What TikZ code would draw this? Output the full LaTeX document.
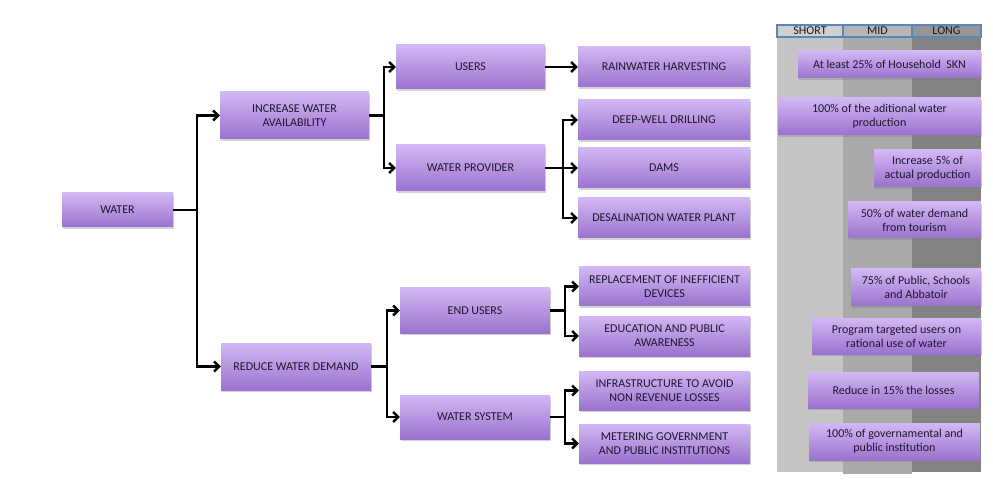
\documentclass[tikz,border=0pt]{standalone}
\usepackage{fontspec}
\setmainfont{Carlito}
\usetikzlibrary{arrows.meta,shadows}

\definecolor{boxtop}{HTML}{D2B8F3}
\definecolor{boxbot}{HTML}{9A72CE}
\definecolor{boxtext}{HTML}{1E1630}
\definecolor{colshort}{HTML}{C4C4C4}
\definecolor{colmid}{HTML}{A9A9A9}
\definecolor{collong}{HTML}{838383}
\definecolor{hdrblue}{HTML}{5B87B8}

\tikzset{
  box/.style={rectangle, inner sep=0pt, align=center, top color=boxtop, bottom color=boxbot,
    text=boxtext, font=\fontsize{12}{14}\selectfont,
    drop shadow={opacity=0.35, shadow xshift=0.6pt, shadow yshift=-1.8pt}},
  hdr/.style={rectangle, inner sep=0pt, draw=hdrblue, line width=1.2pt, minimum height=12,
    text=black!90, font=\fontsize{12}{12}\selectfont},
  link/.style={line width=2.4pt, black},
  arr/.style={link, -{Straight Barb[length=5pt,width=10pt]}},
}

\begin{document}
\begin{tikzpicture}[x=1pt,y=1pt,yscale=-1,xscale=1]
\useasboundingbox (0,0) rectangle (993,486);

%Time columns
\fill[colshort] (777,25) rectangle (843,472);
\fill[colmid] (843,25) rectangle (912,474);
\fill[collong] (912,25) rectangle (981,472);
\node[hdr, fill=colshort!80!white, minimum width=66] (short) at (810,31) {SHORT};
\node[hdr, fill=colmid!85!white, minimum width=69] (mid) at (877.5,31) {MID};
\node[hdr, fill=collong!85!white, minimum width=69] (long) at (946.5,31) {LONG};

% Tree nodes
\node[box, minimum width=111, minimum height=34] (water) at (117.5,210) {WATER};
\node[box, minimum width=149, minimum height=47] (inc) at (294.5,115.5) {INCREASE WATER\\AVAILABILITY};
\node[box, minimum width=150, minimum height=47] (red) at (296,366.5) {REDUCE WATER DEMAND};
\node[box, minimum width=149, minimum height=44] (users) at (470.5,67) {USERS};
\node[box, minimum width=149, minimum height=46] (prov) at (470.5,168) {WATER PROVIDER};
\node[box, minimum width=150, minimum height=45] (endu) at (475,310.5) {END USERS};
\node[box, minimum width=150, minimum height=44] (wsys) at (475,417) {WATER SYSTEM};
\node[box, minimum width=172, minimum height=40] (rain) at (664,67) {RAINWATER HARVESTING};
\node[box, minimum width=172, minimum height=40] (deep) at (664,120) {DEEP-WELL DRILLING};
\node[box, minimum width=172, minimum height=40] (dams) at (664,168) {DAMS};
\node[box, minimum width=172, minimum height=40] (desal) at (664,218) {DESALINATION WATER PLANT};
\node[box, minimum width=171, minimum height=39] (repl) at (664.5,286.5) {REPLACEMENT OF INEFFICIENT\\DEVICES};
\node[box, minimum width=171, minimum height=40] (edu) at (664.5,336) {EDUCATION AND PUBLIC\\AWARENESS};
\node[box, minimum width=171, minimum height=39] (infra) at (664.5,390.5) {INFRASTRUCTURE TO AVOID\\NON REVENUE LOSSES};
\node[box, minimum width=171, minimum height=39] (meter) at (664.5,443.5) {METERING GOVERNMENT\\AND PUBLIC INSTITUTIONS};

% Goal nodes
\node[box, minimum width=183, minimum height=27] (g1) at (889.5,64.5) {At least 25\% of Household\ \ SKN};
\node[box, minimum width=203, minimum height=37] (g2) at (879.5,116.5) {100\% of the aditional water\\production};
\node[box, minimum width=107, minimum height=37] (g3) at (927.5,168.5) {Increase 5\% of\\actual production};
\node[box, minimum width=133, minimum height=36] (g4) at (914.5,220) {50\% of water demand\\from tourism};
\node[box, minimum width=130, minimum height=37] (g5) at (916,287.5) {75\% of Public, Schools\\and Abbatoir};
\node[box, minimum width=169, minimum height=36] (g6) at (896.5,336) {Program targeted users on\\rational use of water};
\node[box, minimum width=171, minimum height=36] (g7) at (893.5,390) {Reduce in 15\% the losses};
\node[box, minimum width=171, minimum height=37] (g8) at (894.5,441.5) {100\% of governamental and\\public institution};

%Connectors
\draw[link] (water.east) -- ++(24,0) coordinate (wj);
\draw[arr] (wj) |- (inc.west);
\draw[arr] (wj) |- (red.west);
\draw[link] (inc.east) -- ++(15,0) coordinate (ij);
\draw[arr] (ij) |- (users.west);
\draw[arr] (ij) |- (prov.west);
\draw[arr] (users.east) -- (rain.west);
\draw[link] (prov.east) -- ++(18,0) coordinate (pj);
\draw[arr] (pj) |- (deep.west);
\draw[arr] (pj) -- (dams.west);
\draw[arr] (pj) |- (desal.west);
\draw[link] (red.east) -- ++(16,0) coordinate (rj);
\draw[arr] (rj) |- (endu.west);
\draw[arr] (rj) |- (wsys.west);
\draw[link] (endu.east) -- ++(15,0) coordinate (ej);
\draw[arr] (ej) |- (repl.west);
\draw[arr] (ej) |- (edu.west);
\draw[link] (wsys.east) -- ++(15,0) coordinate (sj);
\draw[arr] (sj) |- (infra.west);
\draw[arr] (sj) |- (meter.west);

\end{tikzpicture}
\end{document}
